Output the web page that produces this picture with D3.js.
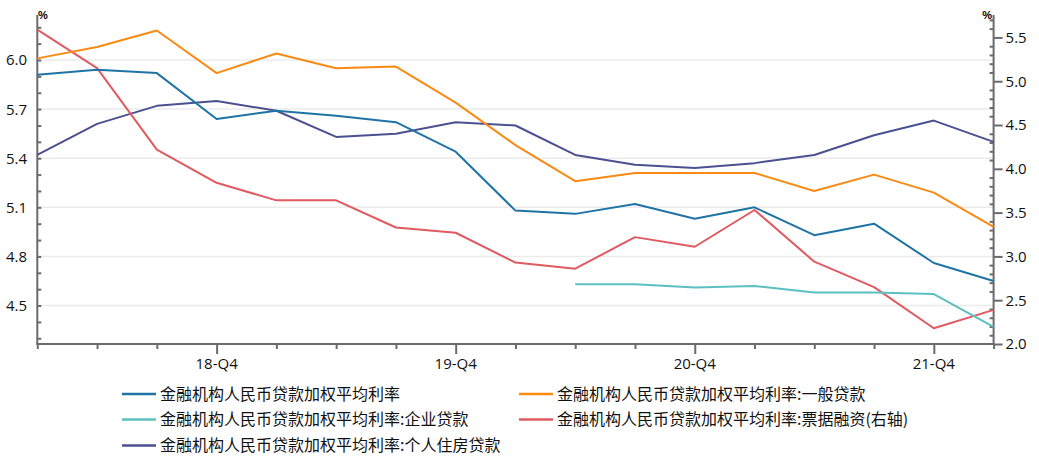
<!DOCTYPE html>
<html>
<head>
<meta charset="utf-8">
<script src="https://cdn.jsdelivr.net/npm/d3@7/dist/d3.min.js"></script>
<style>
  html, body { margin: 0; padding: 0; background: #fff; }
  svg { display: block; }
  .tick-label { font-family: "Open Sans", "Liberation Sans", Arial, sans-serif; font-size: 15px; fill: #111; }
  .legend-text { font-family: "Noto Sans CJK SC", "Noto Sans", sans-serif; font-size: 16px; fill: #111; }
</style>
</head>
<body>
<svg id="chart" width="1039" height="465"></svg>
<script>
// ---------------- data ----------------
const quarters = ["18-Q1","18-Q2","18-Q3","18-Q4","19-Q1","19-Q2","19-Q3","19-Q4",
                  "20-Q1","20-Q2","20-Q3","20-Q4","21-Q1","21-Q2","21-Q3","21-Q4","22-Q1"];
const xTickLabels = ["18-Q4","19-Q4","20-Q4","21-Q4"];

const seriesNames = [
  "金融机构人民币贷款加权平均利率",
  "金融机构人民币贷款加权平均利率:一般贷款",
  "金融机构人民币贷款加权平均利率:企业贷款",
  "金融机构人民币贷款加权平均利率:票据融资(右轴)",
  "金融机构人民币贷款加权平均利率:个人住房贷款"
];

const totalRate   = [5.91,5.94,5.92,5.64,5.69,5.66,5.62,5.44,5.08,5.06,5.12,5.03,5.10,4.93,5.00,4.76,4.65];
const generalRate = [6.01,6.08,6.18,5.92,6.04,5.95,5.96,5.74,5.48,5.26,5.31,5.31,5.31,5.20,5.30,5.19,4.98];
const corpRate    = [null,null,null,null,null,null,null,null,null,4.63,4.63,4.61,4.62,4.58,4.58,4.57,4.37];
const billRate    = [5.59,5.15,4.22,3.84,3.64,3.64,3.33,3.27,2.93,2.86,3.22,3.11,3.53,2.94,2.65,2.18,2.39];
const mortgageRate= [5.42,5.61,5.72,5.75,5.69,5.53,5.55,5.62,5.60,5.42,5.36,5.34,5.37,5.42,5.54,5.63,5.50];

const leftTickLabels  = [4.5, 4.8, 5.1, 5.4, 5.7, 6.0];
const rightTickLabels = [2.0, 2.5, 3.0, 3.5, 4.0, 4.5, 5.0, 5.5];
const leftDomain  = [4.265, 6.275];
const rightDomain = [2.0, 5.756];

const colors = ["#1f74a5", "#fa8a14", "#5dbfc0", "#e05a60", "#4b5190"];

// ---------------- layout ----------------
const svg = d3.select("#chart");
const X0 = 37.3, X1 = 993.6, YT = 15, YB = 344;
const axisColor = "#6b6b6b";

const x = d3.scalePoint().domain(quarters).range([X0, X1]);
const yL = d3.scaleLinear().domain(leftDomain).range([YB, YT]);
const yR = d3.scaleLinear().domain(rightDomain).range([YB, YT]);

// gridlines (left major ticks)
svg.append("g").selectAll("line").data(leftTickLabels).join("line")
  .attr("x1", X0).attr("x2", X1)
  .attr("y1", d => yL(d)).attr("y2", d => yL(d))
  .attr("stroke", "#ebebeb").attr("stroke-width", 1.5);

// left axis
const leftMinor = d3.range(43, 63).map(d => d / 10);
const gL = svg.append("g").attr("transform", `translate(${X0},0)`);
gL.call(d3.axisRight(yL).tickValues(leftMinor).tickSize(4).tickFormat(""));
gL.select(".domain").attr("d", `M0,${YT}V${YB}`);
gL.selectAll("line, path").attr("stroke", axisColor).attr("stroke-width", 2);
svg.append("g").selectAll("text").data(leftTickLabels).join("text")
  .attr("class", "tick-label")
  .attr("x", 27).attr("y", d => yL(d)).attr("dy", "0.36em")
  .attr("text-anchor", "end")
  .text(d => d.toFixed(1));

// right axis
const rightMinor = d3.range(20, 58).map(d => d / 10).filter(d => Math.round(d * 10) % 5 !== 0);
const gR = svg.append("g").attr("transform", `translate(${X1},0)`);
gR.call(d3.axisLeft(yR).tickValues(rightMinor).tickSize(4).tickFormat(""));
gR.select(".domain").attr("d", `M0,${YT}V${YB}`);
const gR2 = svg.append("g").attr("transform", `translate(${X1},0)`);
gR2.call(d3.axisRight(yR).tickValues(rightTickLabels).tickSize(9).tickPadding(3).tickFormat(d3.format(".1f")));
gR2.select(".domain").remove();
gR.selectAll("line, path").attr("stroke", axisColor).attr("stroke-width", 2);
gR2.selectAll("line").attr("stroke", axisColor).attr("stroke-width", 2);
gR2.selectAll("text").attr("class", "tick-label").attr("font-size", null).attr("font-family", null).attr("fill", null);

// bottom axis
const gX = svg.append("g").attr("transform", `translate(0,${YB})`);
gX.call(d3.axisBottom(x).tickSize(5).tickFormat(""));
gX.select(".domain").attr("d", `M${X0 - 1},0H${X1 + 1}`);
gX.selectAll(".tick line").attr("y2", d => xTickLabels.includes(d) ? 10 : 5);
gX.selectAll("line, path").attr("stroke", axisColor).attr("stroke-width", 2);
svg.append("g").selectAll("text").data(xTickLabels).join("text")
  .attr("class", "tick-label")
  .attr("x", d => x(d)).attr("y", 369)
  .attr("text-anchor", "middle")
  .text(d => d);

// unit labels
svg.append("text").attr("x", 38).attr("y", 19)
  .attr("font-family", "Liberation Sans, Arial, sans-serif").attr("font-size", 11).attr("font-weight", "bold")
  .text("%");
svg.append("text").attr("x", 992).attr("y", 19).attr("text-anchor", "end")
  .attr("font-family", "Liberation Sans, Arial, sans-serif").attr("font-size", 11).attr("font-weight", "bold")
  .text("%");

// lines
const seriesData = [
  { vals: totalRate, scale: yL },
  { vals: generalRate, scale: yL },
  { vals: corpRate, scale: yL },
  { vals: billRate, scale: yR },
  { vals: mortgageRate, scale: yL }
];
const drawOrder = [4, 3, 2, 1, 0];
drawOrder.forEach(i => {
  const s = seriesData[i];
  const line = d3.line()
    .defined(d => d.v != null)
    .x(d => x(d.q))
    .y(d => s.scale(d.v));
  svg.append("path")
    .datum(quarters.map((q, k) => ({ q, v: s.vals[k] })))
    .attr("fill", "none")
    .attr("stroke", colors[i])
    .attr("stroke-width", 2)
    .attr("stroke-linejoin", "round")
    .attr("d", line);
});

// legend
const legendPos = [
  { x: 122, y: 394 }, { x: 519, y: 394 },
  { x: 122, y: 419.5 }, { x: 519, y: 419.5 },
  { x: 122, y: 445.5 }
];
const lg = svg.append("g").selectAll("g").data(seriesNames).join("g")
  .attr("transform", (d, i) => `translate(${legendPos[i].x},${legendPos[i].y})`);
lg.append("line").attr("x1", 0).attr("x2", 34).attr("y1", 0).attr("y2", 0)
  .attr("stroke", (d, i) => colors[i]).attr("stroke-width", 2.5);
lg.append("text").attr("class", "legend-text")
  .attr("x", 38).attr("y", 0).attr("dy", "0.36em")
  .text(d => d);
</script>
</body>
</html>
